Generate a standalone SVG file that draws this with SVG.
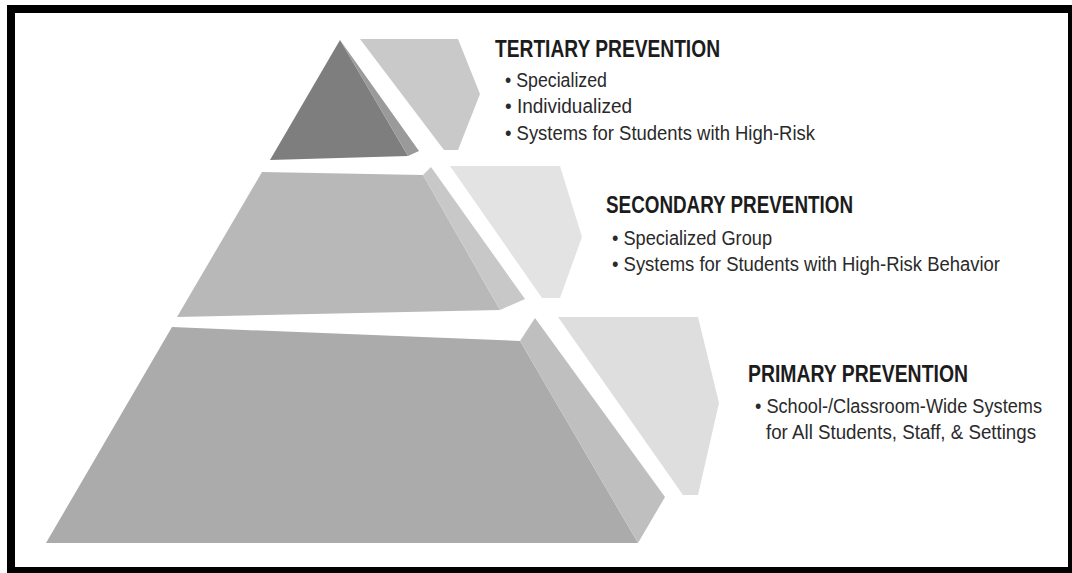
<svg xmlns="http://www.w3.org/2000/svg" width="1072" height="573" viewBox="0 0 1072 573">
<style>
.title{font-family:"Liberation Sans",Arial,sans-serif;font-weight:bold;font-size:24px;fill:#1c1c1c}
.item{font-family:"Liberation Sans",Arial,sans-serif;font-size:20px;fill:#2a2a2a}
</style>
<rect x="0" y="0" width="1072" height="573" fill="#ffffff"/>
<rect x="11" y="9" width="1061" height="562" fill="none" stroke="#000" stroke-width="8"/>
<g id="tertiary">
<polygon points="340,40 408,156 270,160" fill="#7e7e7e"/>
<polygon points="340,40 419,151 408,156" fill="#9a9a9a"/>
<polygon points="360,39 458,39 480,94 458,150 444,150" fill="#c9c9c9"/>
<text class="title" x="495" y="57" textLength="225" lengthAdjust="spacingAndGlyphs">TERTIARY PREVENTION</text>
<text class="item" x="505" y="87" textLength="102" lengthAdjust="spacingAndGlyphs">• Specialized</text>
<text class="item" x="505" y="113" textLength="127" lengthAdjust="spacingAndGlyphs">• Individualized</text>
<text class="item" x="505" y="140" textLength="310" lengthAdjust="spacingAndGlyphs">• Systems for Students with High-Risk</text>
</g>
<g id="secondary">
<polygon points="262,172 423,175 500,310 177,317" fill="#b8b8b8"/>
<polygon points="423,175 431,167 525,299 500,310" fill="#c8c8c8"/>
<polygon points="450,166 560,166 582,237 560,298 542,298" fill="#e3e3e3"/>
<text class="title" x="606" y="213" textLength="247" lengthAdjust="spacingAndGlyphs">SECONDARY PREVENTION</text>
<text class="item" x="612" y="245" textLength="160" lengthAdjust="spacingAndGlyphs">• Specialized Group</text>
<text class="item" x="612" y="271" textLength="388" lengthAdjust="spacingAndGlyphs">• Systems for Students with High-Risk Behavior</text>
</g>
<g id="primary">
<polygon points="172,327 520,341 638,543 46,543" fill="#ababab"/>
<polygon points="520,341 535,318 665,497 638,543" fill="#bfbfbf"/>
<polygon points="558,317 698,317 719,403 698,495 683,495" fill="#dedede"/>
<text class="title" x="748" y="382" textLength="220" lengthAdjust="spacingAndGlyphs">PRIMARY PREVENTION</text>
<text class="item" x="755" y="413" font-size="19" textLength="287" lengthAdjust="spacingAndGlyphs">• School-/Classroom-Wide Systems</text>
<text class="item" x="766" y="439" textLength="270" lengthAdjust="spacingAndGlyphs">for All Students, Staff, &amp; Settings</text>
</g>
</svg>
